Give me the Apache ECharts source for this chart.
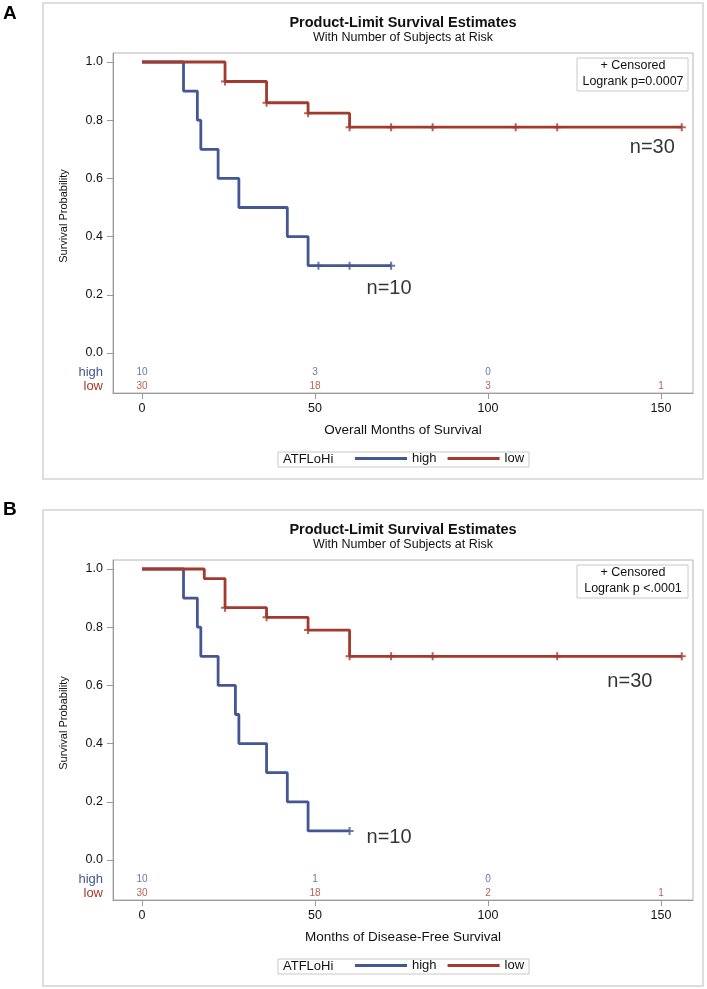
<!DOCTYPE html>
<html>
<head>
<meta charset="utf-8">
<script src="https://cdn.jsdelivr.net/npm/echarts@6/dist/echarts.min.js"></script>
<style>html,body{margin:0;padding:0;background:#fff}#c{width:707px;height:989px}</style>
</head>
<body>
<div id="c"></div>
<script>
// ---------- data ----------
const xTicks = [0, 50, 100, 150];
const yTicks = [0, 0.2, 0.4, 0.6, 0.8, 1.0];
const riskTimesHigh = [0, 50, 100];
const riskTimesLow = [0, 50, 100, 150];

// Panel A : Overall survival
const A_highTime = [0, 12, 16, 17, 22, 28, 42, 48, 72];
const A_highSurv = [1, 0.9, 0.8, 0.7, 0.6, 0.5, 0.4, 0.3, 0.3];
const A_highCensTime = [51, 60, 72];
const A_highCensSurv = [0.3, 0.3, 0.3];
const A_lowTime = [0, 24, 36, 48, 60, 156];
const A_lowSurv = [1, 0.933, 0.86, 0.824, 0.776, 0.776];
const A_lowCensTime = [24, 36, 48, 60, 72, 84, 108, 120, 156];
const A_lowCensSurv = [0.933, 0.86, 0.824, 0.776, 0.776, 0.776, 0.776, 0.776, 0.776];
const A_riskHigh = [10, 3, 0];
const A_riskLow = [30, 18, 3, 1];
const A_nLabels = ['n=30', 'n=10'];
const A_nLabelX = [147.5, 71.4];
const A_nLabelY = [0.707, 0.222];

// Panel B : Disease-free survival
const B_highTime = [0, 12, 16, 17, 22, 27, 28, 36, 42, 48, 60];
const B_highSurv = [1, 0.9, 0.8, 0.7, 0.6, 0.5, 0.4, 0.3, 0.2, 0.1, 0.1];
const B_highCensTime = [60];
const B_highCensSurv = [0.1];
const B_lowTime = [0, 18, 24, 36, 48, 60, 156];
const B_lowSurv = [1, 0.967, 0.867, 0.834, 0.79, 0.70, 0.70];
const B_lowCensTime = [24, 36, 48, 60, 72, 84, 120, 156];
const B_lowCensSurv = [0.867, 0.834, 0.79, 0.70, 0.70, 0.70, 0.70, 0.70];
const B_riskHigh = [10, 1, 0];
const B_riskLow = [30, 18, 2, 1];
const B_nLabels = ['n=30', 'n=10'];
const B_nLabelX = [141, 71.4];
const B_nLabelY = [0.613, 0.077];

// ---------- styling ----------
const FONT = "'Liberation Sans', Arial, sans-serif";
const BLUE = '#445694', RED = '#A23A2E';
const XMIN = -8.38, XMAX = 159.25, YMIN = -0.1375, YMAX = 1.0309;
const PLUS = 'path://M3,0H5V3H8V5H5V8H3V5H0V3H3Z';
const zip = (a, b) => a.map((v, i) => [v, b[i]]);

const grid = [], xAxis = [], yAxis = [], series = [], legend = [], graphic = [];

function panel(P, off, g0) {
  const gM = g0, gR = g0 + 1;
  grid.push({left: 113, top: 53 + off, width: 580, height: 340, show: true, borderColor: '#b4b4b4', borderWidth: 1});
  grid.push({left: 113, top: 365 + off, width: 580, height: 28, show: false});
  xAxis.push({gridIndex: gM, type: 'value', min: XMIN, max: XMAX,
    name: P.xTitle, nameLocation: 'middle', nameGap: 30,
    nameTextStyle: {fontSize: 13.5, color: '#111', fontFamily: FONT},
    axisLine: {show: true, onZero: false, lineStyle: {color: '#9a9a9a', width: 1}},
    axisTick: {show: true, length: 6, customValues: xTicks, lineStyle: {color: '#9a9a9a'}},
    axisLabel: {show: true, customValues: xTicks, margin: 9, fontSize: 12.5, color: '#111', fontFamily: FONT},
    splitLine: {show: false}});
  xAxis.push({gridIndex: gR, type: 'value', min: XMIN, max: XMAX, show: false});
  yAxis.push({gridIndex: gM, type: 'value', min: YMIN, max: YMAX,
    axisLine: {show: true, onZero: false, lineStyle: {color: '#9a9a9a', width: 1}},
    axisTick: {show: true, length: 6, customValues: yTicks, lineStyle: {color: '#9a9a9a'}},
    axisLabel: {customValues: yTicks, formatter: v => Number(v).toFixed(1), margin: 10, fontSize: 12.5, color: '#111', fontFamily: FONT},
    splitLine: {show: false}});
  yAxis.push({gridIndex: gR, type: 'category', data: ['low', 'high'],
    axisLine: {show: false}, axisTick: {show: false}, splitLine: {show: false},
    axisLabel: {interval: 0, hideOverlap: false, margin: 10, formatter: v => '{' + v + '|' + v + '}',
      rich: {high: {color: BLUE, fontSize: 13, fontFamily: FONT}, low: {color: RED, fontSize: 13, fontFamily: FONT}}}});

  const groups = [
    {name: 'high', color: BLUE, t: P.highTime, s: P.highSurv, ct: P.highCensTime, cs: P.highCensSurv, rt: riskTimesHigh, r: P.riskHigh},
    {name: 'low', color: RED, t: P.lowTime, s: P.lowSurv, ct: P.lowCensTime, cs: P.lowCensSurv, rt: riskTimesLow, r: P.riskLow}
  ];
  groups.forEach((g, k) => {
    series.push({type: 'line', name: g.name, xAxisIndex: gM, yAxisIndex: gM, step: 'end', symbol: 'none',
      data: zip(g.t, g.s), lineStyle: {color: g.color, width: 2.8}, itemStyle: {color: g.color}, z: 2 + k, silent: true});
    series.push({type: 'scatter', name: g.name + ' censored', xAxisIndex: gM, yAxisIndex: gM, symbol: PLUS, symbolSize: 8,
      data: zip(g.ct, g.cs), itemStyle: {color: g.color}, z: 5, silent: true});
    series.push({type: 'scatter', name: g.name + ' at risk', xAxisIndex: gR, yAxisIndex: gR, symbolSize: 1,
      itemStyle: {color: 'rgba(0,0,0,0)'}, silent: true,
      label: {show: true, position: 'inside', formatter: p => String(p.value[2]), color: g.color, fontSize: 10, fontFamily: FONT},
      data: g.rt.map((t, i) => [t, g.name, g.r[i]])});
  });
  series.push({type: 'scatter', name: 'n labels', xAxisIndex: gM, yAxisIndex: gM, symbolSize: 1,
    itemStyle: {color: 'rgba(0,0,0,0)'}, silent: true,
    label: {show: true, position: 'inside', formatter: '{b}', color: '#000', fontSize: 20, fontFamily: FONT},
    data: P.nLabels.map((n, i) => ({name: n, value: [P.nX[i], P.nY[i]]}))});

  legend.push({top: 452 + off, left: 355, itemWidth: 52, itemHeight: 3, itemGap: 11, icon: 'rect', padding: 0,
    data: ['high', 'low'], selectedMode: false, textStyle: {fontSize: 13, color: '#111', fontFamily: FONT}});

  graphic.push(
    {type: 'rect', shape: {x: 43, y: 3 + off, width: 660, height: 476}, style: {fill: 'none', stroke: '#d4d4d4', lineWidth: 1.5}, silent: true},
    {type: 'text', x: 3, y: P.letterY, style: {text: P.letter, font: 'bold 19px ' + FONT, fill: '#000', textAlign: 'left', textVerticalAlign: 'middle'}},
    {type: 'text', x: 403, y: 23 + off, style: {text: 'Product-Limit Survival Estimates', font: 'bold 14.5px ' + FONT, fill: '#111', textAlign: 'center', textVerticalAlign: 'middle'}},
    {type: 'text', x: 403, y: 38 + off, style: {text: 'With Number of Subjects at Risk', font: '12.5px ' + FONT, fill: '#111', textAlign: 'center', textVerticalAlign: 'middle'}},
    {type: 'text', x: 64, y: 216 + off, rotation: Math.PI / 2, style: {text: 'Survival Probability', font: '11px ' + FONT, fill: '#111', textAlign: 'center', textVerticalAlign: 'middle'}},
    {type: 'rect', shape: {x: 577, y: 58 + off, width: 111, height: 33}, style: {fill: '#fff', stroke: '#c8c8c8', lineWidth: 1}, z: 10},
    {type: 'text', x: 633, y: 66 + off, z: 11, style: {text: '+ Censored', font: '12.5px ' + FONT, fill: '#111', textAlign: 'center', textVerticalAlign: 'middle'}},
    {type: 'text', x: 633, y: 82 + off, z: 11, style: {text: P.logrank, font: '12.5px ' + FONT, fill: '#111', textAlign: 'center', textVerticalAlign: 'middle'}},
    {type: 'rect', shape: {x: 278, y: 452 + off, width: 251, height: 15}, style: {fill: 'none', stroke: '#c8c8c8', lineWidth: 1}},
    {type: 'text', x: 283, y: 459 + off, style: {text: 'ATFLoHi', font: '13px ' + FONT, fill: '#111', textAlign: 'left', textVerticalAlign: 'middle'}}
  );
}

panel({letter: 'A', letterY: 14, xTitle: 'Overall Months of Survival', logrank: 'Logrank p=0.0007',
  highTime: A_highTime, highSurv: A_highSurv, highCensTime: A_highCensTime, highCensSurv: A_highCensSurv,
  lowTime: A_lowTime, lowSurv: A_lowSurv, lowCensTime: A_lowCensTime, lowCensSurv: A_lowCensSurv,
  riskHigh: A_riskHigh, riskLow: A_riskLow, nLabels: A_nLabels, nX: A_nLabelX, nY: A_nLabelY}, 0, 0);
panel({letter: 'B', letterY: 510, xTitle: 'Months of Disease-Free Survival', logrank: 'Logrank p <.0001',
  highTime: B_highTime, highSurv: B_highSurv, highCensTime: B_highCensTime, highCensSurv: B_highCensSurv,
  lowTime: B_lowTime, lowSurv: B_lowSurv, lowCensTime: B_lowCensTime, lowCensSurv: B_lowCensSurv,
  riskHigh: B_riskHigh, riskLow: B_riskLow, nLabels: B_nLabels, nX: B_nLabelX, nY: B_nLabelY}, 507, 2);

const chart = echarts.init(document.getElementById('c'), null, {renderer: 'canvas'});
chart.setOption({animation: false, backgroundColor: '#fff', grid, xAxis, yAxis, series, legend, graphic});
</script>
</body>
</html>
